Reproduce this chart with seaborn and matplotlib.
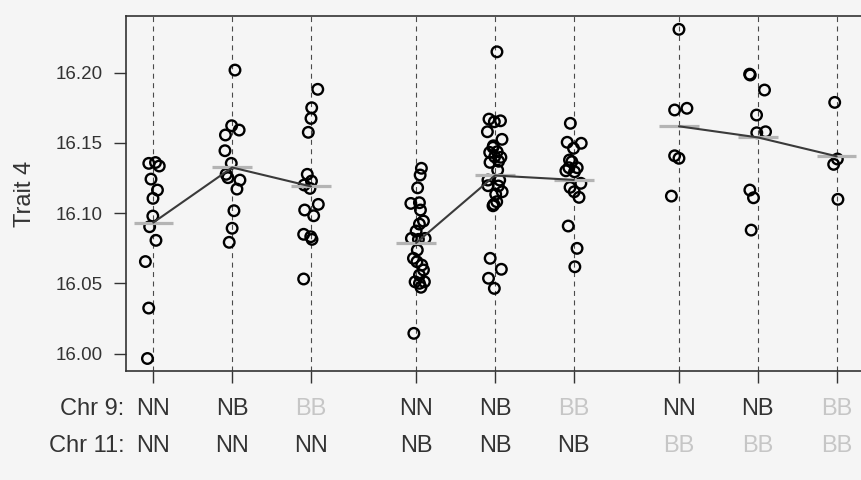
import numpy as np
import pandas as pd
import matplotlib
matplotlib.use("Agg")
import matplotlib.pyplot as plt
import seaborn as sns

genotypes = ["NN", "NB", "BB"]
ytick_values = [16.00, 16.05, 16.10, 16.15, 16.20]

# Trait 4 by genotype: trait_<chr9>_<chr11>, with horizontal jitter of each point
trait_nn_nn = [16.1355, 16.1361, 16.1336, 16.1243, 16.1165, 16.1106, 16.0980,
               16.0904, 16.0807, 16.0656, 16.0325, 15.9966]
jitter_nn_nn = [-0.057, 0.028, 0.076, -0.029, 0.053, -0.004, -0.006,
                -0.046, 0.034, -0.100, -0.058, -0.074]

trait_nb_nn = [16.2019, 16.1623, 16.1592, 16.1557, 16.1445, 16.1355, 16.1277,
               16.1253, 16.1236, 16.1172, 16.1018, 16.0893, 16.0793]
jitter_nb_nn = [0.036, -0.006, 0.089, -0.085, -0.091, -0.011, -0.076,
                -0.053, 0.099, 0.061, 0.023, 0.0, -0.037]

trait_bb_nn = [16.1882, 16.1751, 16.1675, 16.1576, 16.1277, 16.1229, 16.1201,
               16.1177, 16.1063, 16.1023, 16.0982, 16.0850, 16.0833, 16.0814,
               16.0532]
jitter_bb_nn = [0.086, 0.009, 0.0, -0.034, -0.047, 0.006, -0.086,
                -0.013, 0.093, -0.080, 0.034, -0.093, -0.003, 0.013,
                -0.093]

trait_nn_nb = [16.1320, 16.1272, 16.1181, 16.1070, 16.1075, 16.1023, 16.0944,
               16.0923, 16.0873, 16.0821, 16.0814, 16.0821, 16.0738, 16.0679,
               16.0655, 16.0631, 16.0596, 16.0560, 16.0512, 16.0501, 16.0512,
               16.0473, 16.0145]
jitter_nn_nb = [0.067, 0.051, 0.019, -0.067, 0.042, 0.055, 0.093,
                0.042, 0.0, -0.060, 0.029, 0.114, 0.015, -0.034,
                0.010, 0.072, 0.093, 0.042, -0.013, 0.042, 0.105,
                0.061, -0.029]

trait_nb_nb = [16.2149, 16.1670, 16.1651, 16.1658, 16.1580, 16.1526, 16.1469,
               16.1433, 16.1438, 16.1402, 16.1398, 16.1362, 16.1307, 16.1236,
               16.1236, 16.1196, 16.1194, 16.1153, 16.1135, 16.1082, 16.1063,
               16.1053, 16.0679, 16.0601, 16.0537, 16.0465, 16.1480, 16.1370]
jitter_nb_nb = [0.025, -0.076, -0.008, 0.070, -0.096, 0.089, -0.025,
                -0.067, 0.028, -0.004, 0.075, -0.063, 0.034, -0.089,
                0.060, -0.089, 0.043, 0.091, 0.009, 0.022, -0.014,
                -0.025, -0.061, 0.081, -0.082, -0.008, -0.020, 0.047]

trait_bb_nb = [16.1640, 16.1505, 16.1462, 16.1498, 16.1379, 16.1367, 16.1324,
               16.1324, 16.1302, 16.1295, 16.1213, 16.1184, 16.1153, 16.1113,
               16.0909, 16.0750, 16.0619]
jitter_bb_nb = [-0.044, -0.084, -0.004, 0.094, -0.055, -0.025, 0.043,
                -0.063, -0.101, 0.009, 0.089, -0.048, 0.005, 0.066,
                -0.071, 0.041, 0.013]

trait_nn_bb = [16.2309, 16.1735, 16.1747, 16.1409, 16.1391, 16.1122]
jitter_nn_bb = [0.0, -0.055, 0.101, -0.055, 0.0, -0.096]

trait_nb_bb = [16.1984, 16.1990, 16.1877, 16.1699, 16.1573, 16.1580, 16.1165,
               16.1110, 16.0880]
jitter_nb_bb = [-0.096, -0.104, 0.085, -0.016, -0.013, 0.098, -0.101,
                -0.055, -0.084]

trait_bb_bb = [16.1789, 16.1386, 16.1348, 16.1099]
jitter_bb_bb = [-0.025, 0.009, -0.038, 0.016]

groups = [
    ("NN", "NN", trait_nn_nn, jitter_nn_nn),
    ("NB", "NN", trait_nb_nn, jitter_nb_nn),
    ("BB", "NN", trait_bb_nn, jitter_bb_nn),
    ("NN", "NB", trait_nn_nb, jitter_nn_nb),
    ("NB", "NB", trait_nb_nb, jitter_nb_nb),
    ("BB", "NB", trait_bb_nb, jitter_bb_nb),
    ("NN", "BB", trait_nn_bb, jitter_nn_bb),
    ("NB", "BB", trait_nb_bb, jitter_nb_bb),
    ("BB", "BB", trait_bb_bb, jitter_bb_bb),
]

# Chr 11 genotype sets the block, Chr 9 genotype the slot inside it
GROUP_GAP = 1 / 3


def slot(c9, c11):
    return genotypes.index(c11) * (3 + GROUP_GAP) + genotypes.index(c9)


rows = []
for c9, c11, vals, jit in groups:
    for v, j in zip(vals, jit):
        rows.append({"chr9": c9, "chr11": c11, "trait": v,
                     "pos": slot(c9, c11), "x": slot(c9, c11) + j})
df = pd.DataFrame(rows)

means = (df.groupby(["chr11", "chr9"], sort=False)
           .agg(trait=("trait", "mean"), pos=("pos", "first"))
           .reset_index())

BG = "#f5f5f5"
DARK = "#333333"
LIGHT = "#c6c6c6"

sns.set_theme(style="white")
plt.rcParams["font.family"] = ["Liberation Sans", "DejaVu Sans"]

fig = plt.figure(figsize=(8.61, 4.80), dpi=100, facecolor=BG)
ax = fig.add_axes([126 / 861, 109 / 480, 739 / 861, 355 / 480])
ax.set_facecolor(BG)

# dashed guides through each genotype slot
for p in means["pos"]:
    ax.axvline(p, color="#4a4a4a", lw=0.8, ls=(0, (4.5, 4)), zorder=1)

sns.scatterplot(data=df, x="x", y="trait", ax=ax, s=58, marker="o",
                facecolor="none", edgecolor="black", linewidth=1.7,
                legend=False, zorder=3)

# group means: short grey bars, joined within each Chr 11 genotype
ax.hlines(means["trait"], means["pos"] - 0.25, means["pos"] + 0.25,
          color="#b4b4b4", lw=2.3, zorder=4)
sns.lineplot(data=means, x="pos", y="trait", units="chr11", estimator=None,
             color="#3a3a3a", lw=1.5, ax=ax, legend=False, zorder=5)

ax.set_xlim(-0.346, 9.026)
ax.set_ylim(15.9877, 16.2404)
ax.set_xticks(list(means["pos"]))
ax.set_xticklabels([])
ax.set_yticks(ytick_values)
ax.set_yticklabels([f"{v:.2f}" for v in ytick_values])
ax.tick_params(axis="both", direction="out", length=8.5, width=1.0,
               color=DARK, labelcolor=DARK, labelsize=13.5, pad=8,
               left=True, bottom=True)
ax.tick_params(axis="x", pad=0)
ax.set_xlabel("")
ax.set_ylabel("Trait 4", fontsize=17, color=DARK, va="center")
ax.yaxis.set_label_coords((25 - 126) / 739, 0.5)

for side in ["left", "top", "bottom"]:
    ax.spines[side].set_color(DARK)
    ax.spines[side].set_linewidth(1.2)
ax.spines["right"].set_visible(False)

# two-row genotype labels under the axis
row_y = {"chr9": -0.1239, "chr11": -0.2282}
trans = ax.get_xaxis_transform()
for _, r in means.iterrows():
    for key in ["chr9", "chr11"]:
        g = r[key]
        ax.text(r["pos"], row_y[key], g, transform=trans, ha="center",
                va="baseline", fontsize=17,
                color=LIGHT if g == "BB" else DARK)
ax.text(-0.002, row_y["chr9"], "Chr 9:", transform=ax.transAxes, ha="right",
        va="baseline", fontsize=17, color=DARK)
ax.text(-0.002, row_y["chr11"], "Chr 11:", transform=ax.transAxes, ha="right",
        va="baseline", fontsize=17, color=DARK)

fig.savefig("out.png", dpi=100, facecolor=BG)
